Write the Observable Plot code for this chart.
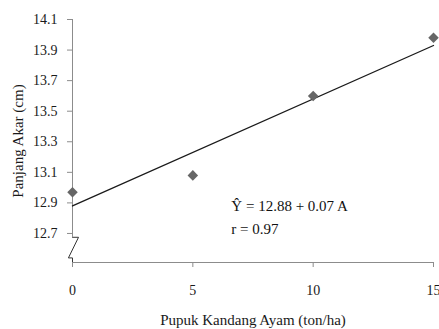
<!DOCTYPE html>
<html>
<head>
<meta charset="utf-8">
<script src="https://cdn.jsdelivr.net/npm/d3@7"></script>
<script src="https://cdn.jsdelivr.net/npm/@observablehq/plot@0.6"></script>
<style>
  html, body { margin: 0; padding: 0; background: #fff; }
  svg, svg text { font-family: "Liberation Serif", "DejaVu Serif", serif !important; }
</style>
</head>
<body>
<div id="chart"></div>
<script>
const dosis = [0, 5, 10, 15];
const panjang = [12.97, 13.08, 13.60, 13.98];
const yTicks = [12.7, 12.9, 13.1, 13.3, 13.5, 13.7, 13.9, 14.1];
const xTicks = [0, 5, 10, 15];
const intercept = 12.88;
const slope = 0.07;
const eqLines = ["Ŷ = 12.88 + 0.07 A", "r = 0.97"];
const eqX = [6.6, 6.6];
const eqY = [12.88, 12.73];
const breakX = [0, 0.25, -0.17, 0, 0];
const breakY = [12.675, 12.675, 12.54, 12.54, 12.51];

const points = dosis.map((d, i) => ({x: d, y: panjang[i]}));
const fit = [0, 15].map(x => ({x, y: intercept + slope * x}));
const eq = eqLines.map((t, i) => ({t, x: eqX[i], y: eqY[i]}));
const brk = breakX.map((x, i) => ({x, y: breakY[i]}));

const axisColor = "#8c8c8c";
const plot = Plot.plot({
  width: 439,
  height: 329,
  marginTop: 19,
  marginBottom: 67,
  marginLeft: 72,
  marginRight: 6,
  style: {fontFamily: '"Liberation Serif", serif', fontSize: "14px", color: "#1a1a1a", background: "#fff"},
  x: {domain: [0, 15]},
  y: {domain: [12.51, 14.1]},
  marks: [
    Plot.ruleY([12.51], {x1: 0, x2: 15, stroke: axisColor}),
    Plot.ruleX([0], {y1: 12.675, y2: 14.1, stroke: axisColor}),
    Plot.line(brk, {x: "x", y: "y", stroke: "#333", strokeWidth: 1}),
    Plot.axisY({ticks: yTicks, tickFormat: d => d.toFixed(1), tickSize: 5, tickPadding: 10, stroke: axisColor,
      label: null, fontSize: 14}),
    Plot.axisY({ticks: [], tickSize: 0, label: "Panjang Akar (cm)", labelAnchor: "center", labelArrow: "none",
      labelOffset: 60, fontSize: 15}),
    Plot.axisX({ticks: xTicks, tickSize: 5, tickPadding: 18, stroke: axisColor,
      label: null, fontSize: 14}),
    Plot.axisX({ticks: [], tickSize: 0, label: "Pupuk Kandang Ayam (ton/ha)", labelAnchor: "center", labelArrow: "none",
      labelOffset: 62, fontSize: 15}),
    Plot.line(fit, {x: "x", y: "y", stroke: "#1a1a1a", strokeWidth: 1.3}),
    Plot.dot(points, {x: "x", y: "y", symbol: "square", rotate: 45, r: 4.2, fill: "#666", stroke: "none"}),
    Plot.text(eq, {x: "x", y: "y", text: "t", textAnchor: "start", fontSize: 15, fill: "#111"})
  ]
});
document.getElementById("chart").appendChild(plot);
</script>
</body>
</html>
